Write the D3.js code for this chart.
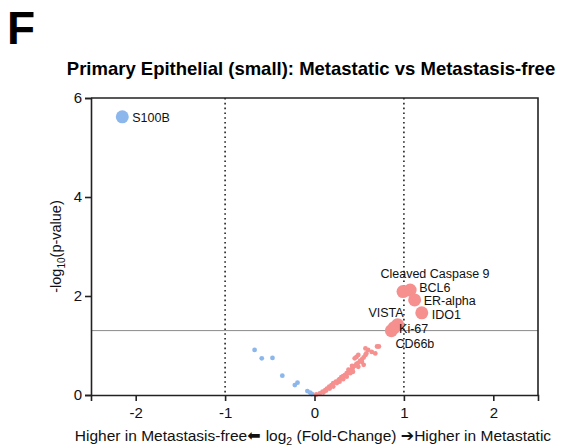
<!DOCTYPE html>
<html>
<head>
<meta charset="utf-8">
<script src="https://cdn.jsdelivr.net/npm/d3@7"></script>
<style>
  body { margin: 0; background: #fff; }
  text { font-family: "Liberation Sans", Arial, sans-serif; }
</style>
</head>
<body>
<div id="chart"></div>
<script>
// log2 fold change / -log10 p for each marker
var blueX = [-2.15, -0.67, -0.59, -0.47, -0.36, -0.22, -0.19, -0.08, -0.05, -0.03];
var blueY = [5.62, 0.91, 0.74, 0.75, 0.39, 0.20, 0.25, 0.08, 0.05, 0.02];
var blueNames = ["S100B", "", "", "", "", "", "", "", "", ""];

var redX = [0.06, 0.09, 0.12, 0.14, 0.165, 0.19, 0.21, 0.24, 0.27, 0.28, 0.30, 0.32, 0.34, 0.36, 0.38,
  0.40, 0.42, 0.43, 0.45, 0.47, 0.49, 0.51, 0.53, 0.55, 0.57, 0.58, 0.47, 0.49, 0.45, 0.60, 0.64,
  0.68, 0.70, 0.57, 0.53, 0.55, 0.49, 0.43, 0.40, 0.36, 0.32, 0.28, 0.25, 0.21, 0.17, 0.13, 0.10,
  0.38, 0.42, 0.72, 0.02,
  0.99, 1.07, 1.12, 1.20, 0.93, 0.89, 0.86];
var redY = [0.03, 0.07, 0.10, 0.13, 0.17, 0.20, 0.24, 0.27, 0.30, 0.32, 0.36, 0.38, 0.40, 0.44, 0.45,
  0.49, 0.52, 0.56, 0.59, 0.63, 0.65, 0.69, 0.72, 0.76, 0.81, 0.84, 0.77, 0.81, 0.74, 0.91, 0.87,
  0.84, 0.98, 0.94, 0.67, 0.61, 0.57, 0.47, 0.44, 0.37, 0.32, 0.27, 0.24, 0.17, 0.13, 0.09, 0.05,
  0.51, 0.59, 0.98, 0.01,
  2.09, 2.12, 1.92, 1.66, 1.42, 1.36, 1.30];
var redNames = [];
for (var i = 0; i < redX.length; i++) redNames.push("");
redNames[51] = "Cleaved Caspase 9";
redNames[52] = "BCL6";
redNames[53] = "ER-alpha";
redNames[54] = "IDO1";
redNames[55] = "VISTA";
redNames[56] = "Ki-67";
redNames[57] = "CD66b";

var xTicks = [-2, -1, 0, 1, 2];
var yTicks = [0, 2, 4, 6];
var pThreshold = -Math.log10(0.05);
var fcLines = [-1, 1];

// label nudges (px) so they sit like the original
var labelNudge = {
  "S100B": [10, 5, "start"],
  "Cleaved Caspase 9": [32, -14, "middle"],
  "BCL6": [9, 2, "start"],
  "ER-alpha": [9, 5, "start"],
  "IDO1": [10, 6, "start"],
  "VISTA": [6, -8, "end"],
  "Ki-67": [5, 5, "start"],
  "CD66b": [4, 17, "start"]
};

var svgWidth = 561;
var svgHeight = 446;
var margin = { top: 98, right: 23, bottom: 51, left: 91 };
var width = svgWidth - margin.left - margin.right;
var height = svgHeight - margin.top - margin.bottom;

var svg = d3.select("#chart").append("svg")
  .attr("width", svgWidth)
  .attr("height", svgHeight);

svg.append("text")
  .attr("x", 7)
  .attr("y", 44)
  .attr("font-size", 46)
  .attr("font-weight", "bold")
  .text("F");

svg.append("text")
  .attr("x", 311)
  .attr("y", 75)
  .attr("text-anchor", "middle")
  .attr("font-size", 18.5)
  .attr("font-weight", "bold")
  .text("Primary Epithelial (small): Metastatic vs Metastasis-free");

var chartGroup = svg.append("g")
  .attr("transform", `translate(${margin.left}, ${margin.top})`);

var xScale = d3.scaleLinear().domain([-2.5, 2.5]).range([0, width]);
var yScale = d3.scaleLinear().domain([0, 6]).range([height, 0]);

// threshold + fold change guides
chartGroup.append("line")
  .attr("x1", 0).attr("x2", width)
  .attr("y1", yScale(pThreshold)).attr("y2", yScale(pThreshold))
  .attr("stroke", "#8a8a8a").attr("stroke-width", 1);

chartGroup.selectAll(".fcline")
  .data(fcLines)
  .enter()
  .append("line")
  .attr("class", "fcline")
  .attr("x1", d => xScale(d)).attr("x2", d => xScale(d))
  .attr("y1", 0).attr("y2", height)
  .attr("stroke", "#222").attr("stroke-width", 1.6)
  .attr("stroke-dasharray", "1.6,3.2");

// points
var blueData = blueX.map((x, i) => ({ x: x, y: blueY[i], name: blueNames[i], c: "#8cb7ec" }));
var redData = redX.map((x, i) => ({ x: x, y: redY[i], name: redNames[i], c: "#f5908f" }));
var allData = blueData.concat(redData);

chartGroup.selectAll("circle")
  .data(allData)
  .enter()
  .append("circle")
  .attr("cx", d => xScale(d.x))
  .attr("cy", d => yScale(d.y))
  .attr("r", d => d.name ? 6.5 : 2.4)
  .attr("fill", d => d.c);

chartGroup.selectAll(".lbl")
  .data(allData.filter(d => d.name))
  .enter()
  .append("text")
  .attr("class", "lbl")
  .attr("x", d => xScale(d.x) + labelNudge[d.name][0])
  .attr("y", d => yScale(d.y) + labelNudge[d.name][1])
  .attr("text-anchor", d => labelNudge[d.name][2])
  .attr("font-size", 12.5)
  .attr("fill", "#111")
  .text(d => d.name);

// axes
var bottomAxis = d3.axisBottom(xScale).tickValues(xTicks).tickSize(6).tickPadding(6)
  .tickFormat(d => d < 0 ? "-" + Math.abs(d) : d);
var leftAxis = d3.axisLeft(yScale).tickValues(yTicks).tickSize(6).tickPadding(3)
  .tickFormat(d3.format("d"));

var xAxis = chartGroup.append("g")
  .attr("transform", `translate(0, ${height})`)
  .call(bottomAxis);
var yAxis = chartGroup.append("g").call(leftAxis);

[xAxis, yAxis].forEach(function(ax) {
  ax.select(".domain").attr("stroke", "#222").attr("stroke-width", 1.6);
  ax.selectAll(".tick line").attr("stroke", "#222").attr("stroke-width", 1.6);
  ax.selectAll(".tick text").attr("font-size", 15).attr("fill", "#111")
    .attr("font-family", "Liberation Sans, Arial, sans-serif");
});

// top and right frame
chartGroup.append("path")
  .attr("d", `M0,0H${width}V${height}`)
  .attr("fill", "none")
  .attr("stroke", "#222")
  .attr("stroke-width", 1.6);

// axis titles
var yLabel = chartGroup.append("text")
  .attr("transform", "rotate(-90)")
  .attr("x", -(height / 2))
  .attr("y", -30)
  .attr("text-anchor", "middle")
  .attr("font-size", 14.5)
  .attr("fill", "#111");
yLabel.append("tspan").text("-log");
yLabel.append("tspan").attr("font-size", 10).attr("dy", 4).text("10");
yLabel.append("tspan").attr("dy", -4).text("(p-value)");

var xLabel = svg.append("text")
  .attr("x", 313)
  .attr("y", 441)
  .attr("text-anchor", "middle")
  .attr("font-size", 15.5)
  .attr("fill", "#111");
xLabel.append("tspan").text("Higher in Metastasis-free");
xLabel.append("tspan").attr("font-family", "DejaVu Sans").attr("font-size", 16).text("\u2B05 ");
xLabel.append("tspan").text("log");
xLabel.append("tspan").attr("font-size", 10.5).attr("dy", 4).text("2");
xLabel.append("tspan").attr("dy", -4).text(" (Fold-Change) ");
xLabel.append("tspan").attr("font-family", "DejaVu Sans").attr("font-size", 16).text("\u2794");
xLabel.append("tspan").text("Higher in Metastatic");
</script>
</body>
</html>
